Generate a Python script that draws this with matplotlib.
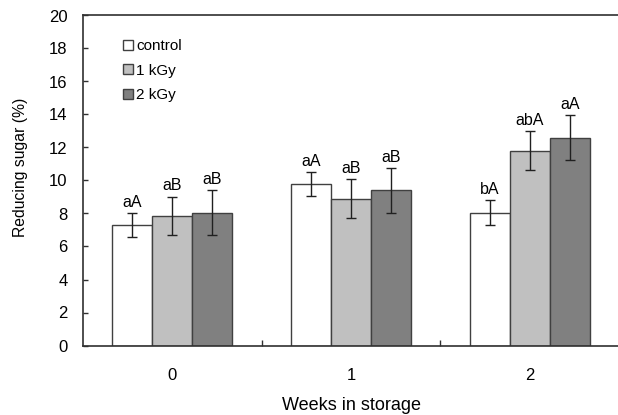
import numpy as np
import matplotlib
matplotlib.use("Agg")
import matplotlib.pyplot as plt

plt.rcParams['font.family'] = ['Liberation Sans', 'DejaVu Sans']

weeks = ['0', '1', '2']
groups = ['control', '1 kGy', '2 kGy']
means = {
    'control': [7.3, 9.8, 8.05],
    '1 kGy': [7.85, 8.9, 11.8],
    '2 kGy': [8.05, 9.4, 12.6],
}
errs = {
    'control': [0.72, 0.72, 0.75],
    '1 kGy': [1.18, 1.2, 1.18],
    '2 kGy': [1.36, 1.35, 1.35],
}
letters = {
    'control': ['aA', 'aA', 'bA'],
    '1 kGy': ['aB', 'aB', 'abA'],
    '2 kGy': ['aB', 'aB', 'aA'],
}
colors = {'control': '#ffffff', '1 kGy': '#c0c0c0', '2 kGy': '#808080'}

fig = plt.figure(figsize=(6.18, 4.15), dpi=100)
ax = fig.add_axes([83 / 618, (415 - 345.5) / 415, 536 / 618, 330 / 415])

x = np.arange(len(weeks))
w = 0.224
for i, g in enumerate(groups):
    pos = x + (i - 1) * w
    ax.bar(pos, means[g], w, color=colors[g], edgecolor='#404040',
           linewidth=1.0, label=g, zorder=2)
    ax.errorbar(pos, means[g], yerr=errs[g], fmt='none', ecolor='#202020',
                elinewidth=1.0, capsize=3.5, capthick=1.0, zorder=3)
    for px, m, e, t in zip(pos, means[g], errs[g], letters[g]):
        ax.annotate(t, (px, m + e), xytext=(0, 4.5), textcoords='offset points',
                    ha='center', va='baseline', fontsize=11.5)

ax.set_xlim(-0.5, 2.5)
ax.set_ylim(0, 20)
ax.set_yticks(np.arange(0, 21, 2))
ax.set_xticks(x)
ax.set_xticklabels(weeks)
ax.set_xticks([0.5, 1.5], minor=True)
ax.tick_params(axis='x', which='major', length=0, pad=16, labelsize=12)
ax.tick_params(axis='x', which='minor', direction='in', length=4.5, width=1.0,
               color='#303030')
ax.tick_params(axis='y', direction='in', length=3.5, width=1.0, pad=11,
               labelsize=12, color='#303030')

for s in ['left', 'bottom', 'top']:
    ax.spines[s].set_linewidth(1.2)
    ax.spines[s].set_color('#303030')
ax.spines['right'].set_visible(False)

ax.set_xlabel('Weeks in storage', fontsize=13, labelpad=10)
ax.set_ylabel('Reducing sugar (%)', fontsize=11.3)
ax.yaxis.set_label_coords(-0.103, 0.54)

ax.legend(loc='upper left', bbox_to_anchor=(0.074, 0.928), frameon=False,
          fontsize=11, handlelength=0.65, handleheight=0.65,
          handletextpad=0.25, labelspacing=0.68, borderpad=0,
          borderaxespad=0)

fig.savefig('out.png', dpi=100)
